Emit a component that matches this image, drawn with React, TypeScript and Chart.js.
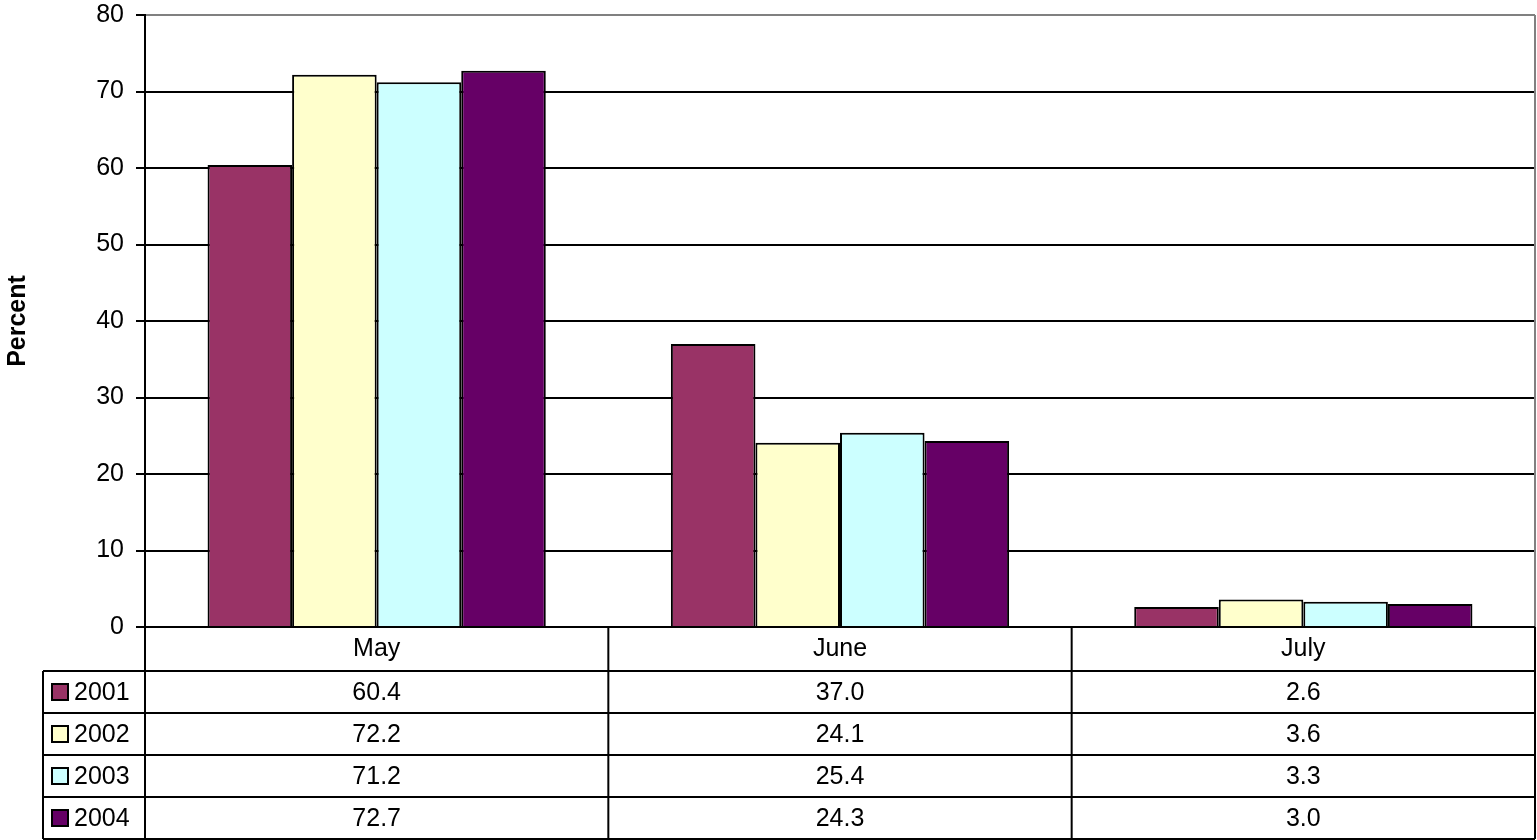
import React, { useEffect, useRef } from "react";
import { Chart, registerables } from "chart.js";

Chart.register(...registerables);

const categories = ["May", "June", "July"];
const seriesNames = ["2001", "2002", "2003", "2004"];
const values2001 = [60.4, 37.0, 2.6];
const values2002 = [72.2, 24.1, 3.6];
const values2003 = [71.2, 25.4, 3.3];
const values2004 = [72.7, 24.3, 3.0];
const seriesColors = ["#993366", "#FFFFCC", "#CCFFFF", "#660066"];
const yTicks = [0, 10, 20, 30, 40, 50, 60, 70, 80];

const FONT = "'Liberation Sans', Arial, sans-serif";
const FONT_SIZE = 25;

const tablePlugin = {
  id: "dataTable",
  afterDraw(chart: any) {
    const ctx = chart.ctx;
    const area = chart.chartArea;
    const x = chart.scales.x;
    const n = categories.length;
    const step = (area.right - area.left) / n;
    const bounds: number[] = [];
    for (let i = 0; i <= n; i++) {
      const px = i < n ? x.getPixelForValue(i) - step / 2 : x.getPixelForValue(n - 1) + step / 2;
      bounds.push(px);
    }
    const legendLeft = 43;
    const headerTop = area.bottom;
    const headerH = 44;
    const rowH = 42;
    const rowsTop = headerTop + headerH;
    const tableBottom = rowsTop + rowH * chart.data.datasets.length;

    ctx.save();
    ctx.strokeStyle = "#808080";
    ctx.lineWidth = 2;
    ctx.beginPath();
    ctx.moveTo(area.right, area.top);
    ctx.lineTo(area.right, area.bottom);
    ctx.stroke();

    ctx.strokeStyle = "#000";
    ctx.lineWidth = 2;
    ctx.beginPath();
    ctx.moveTo(area.left, headerTop);
    ctx.lineTo(bounds[n], headerTop);
    for (let r = 0; r <= chart.data.datasets.length; r++) {
      const y = rowsTop + r * rowH;
      ctx.moveTo(legendLeft, y);
      ctx.lineTo(bounds[n], y);
    }
    ctx.moveTo(legendLeft, rowsTop);
    ctx.lineTo(legendLeft, tableBottom);
    for (let i = 0; i <= n; i++) {
      ctx.moveTo(bounds[i], headerTop);
      ctx.lineTo(bounds[i], tableBottom);
    }
    ctx.stroke();

    ctx.fillStyle = "#000";
    ctx.font = `${FONT_SIZE}px ${FONT}`;
    ctx.textBaseline = "middle";
    ctx.textAlign = "center";
    for (let i = 0; i < n; i++) {
      const cx = (bounds[i] + bounds[i + 1]) / 2;
      ctx.fillText(chart.data.labels[i], cx, headerTop + headerH / 2);
    }
    chart.data.datasets.forEach((ds: any, r: number) => {
      const cy = rowsTop + r * rowH + rowH / 2;
      ctx.fillStyle = ds.backgroundColor;
      ctx.fillRect(52, cy - 8, 16, 16);
      ctx.strokeStyle = "#000";
      ctx.lineWidth = 2;
      ctx.strokeRect(52, cy - 8, 16, 16);
      ctx.fillStyle = "#000";
      ctx.textAlign = "left";
      ctx.fillText(ds.label, 74, cy + 1);
      ctx.textAlign = "center";
      for (let i = 0; i < n; i++) {
        const cx = (bounds[i] + bounds[i + 1]) / 2;
        ctx.fillText(Number(ds.data[i]).toFixed(1), cx, cy + 1);
      }
    });
    ctx.restore();
  },
};

export default function App() {
  const ref = useRef<HTMLCanvasElement | null>(null);
  useEffect(() => {
    document.body.style.margin = "0";
    const canvas = ref.current;
    if (!canvas) return;
    const seriesValues = [values2001, values2002, values2003, values2004];
    const chart = new Chart(canvas, {
      type: "bar",
      data: {
        labels: categories,
        datasets: seriesNames.map((name, i) => ({
          label: name,
          data: seriesValues[i],
          backgroundColor: seriesColors[i],
          borderColor: "#000",
          borderWidth: 2,
          categoryPercentage: 0.73,
          barPercentage: 1,
        })),
      },
      options: {
        responsive: false,
        animation: false,
        devicePixelRatio: 1,
        layout: { padding: { top: 15, right: 2, bottom: 213, left: 0 } },
        plugins: {
          legend: { display: false },
          tooltip: { enabled: false },
          title: { display: false },
        },
        scales: {
          x: { display: false },
          y: {
            min: 0,
            max: 80,
            afterBuildTicks: (scale: any) => {
              scale.ticks = yTicks.map((v) => ({ value: v }));
            },
            afterFit: (scale: any) => {
              scale.width = 145;
              scale.paddingTop = 0;
              scale.paddingBottom = 0;
            },
            ticks: {
              color: "#000",
              font: { family: FONT, size: FONT_SIZE },
              padding: 12,
            },
            grid: {
              color: (c: any) => (c.tick && c.tick.value === 80 ? "#808080" : "#000"),
              lineWidth: 2,
              tickColor: "#000",
              tickLength: 9,
              drawTicks: true,
            },
            border: { display: true, color: "#000", width: 2 },
            title: {
              display: true,
              text: "Percent",
              color: "#000",
              font: { family: FONT, size: 25, weight: "bold" },
              padding: { top: 3, bottom: 0 },
            },
          },
        },
      },
      plugins: [tablePlugin],
    });
    return () => chart.destroy();
  }, []);
  return (
    <div style={{ position: "absolute", left: 0, top: 0, width: 1537, height: 840 }}>
      <canvas ref={ref} width={1537} height={840} style={{ display: "block" }} />
    </div>
  );
}
